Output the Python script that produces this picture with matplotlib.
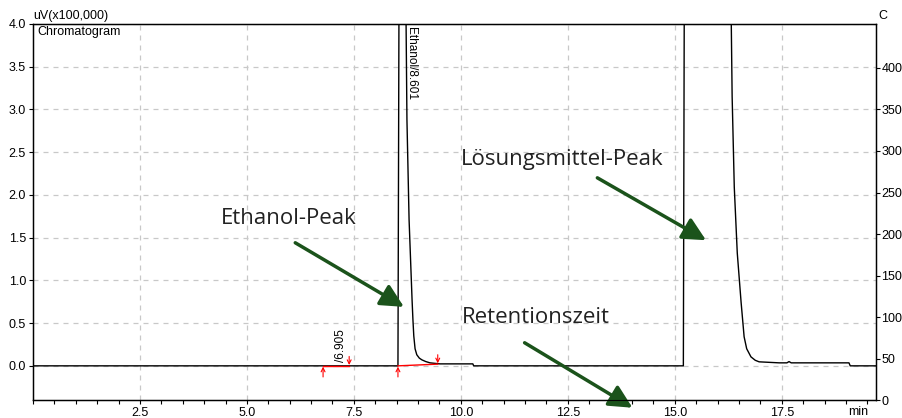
import matplotlib
matplotlib.use("Agg")
import matplotlib.pyplot as plt
from matplotlib.ticker import MultipleLocator

# chromatogram trace (min, uV x100,000)
time = [0.0, 8.53, 8.55, 8.58, 8.70, 8.72, 8.74, 8.79, 8.86, 8.88, 8.90, 8.93, 8.97,
        9.03, 9.09, 9.18, 9.28, 9.51, 10.28, 10.30, 15.20, 15.22, 15.26, 16.28,
        16.32, 16.34, 16.39, 16.46, 16.55, 16.62, 16.68, 16.78, 16.88, 16.97, 17.44,
        17.62, 17.67, 17.72, 19.07, 19.10, 19.70]
signal = [0.0, 0.0, 3.5, 9.0, 9.0, 4.0, 2.88, 1.71, 0.77, 0.54, 0.35, 0.20, 0.13,
          0.09, 0.07, 0.05, 0.035, 0.023, 0.023, 0.0, 0.0, 4.0, 9.0, 9.0,
          4.0, 3.15, 2.09, 1.32, 0.74, 0.34, 0.20, 0.105, 0.065, 0.047, 0.035,
          0.035, 0.05, 0.035, 0.035, 0.0, 0.0]

# integration marks
peak_start = [6.78, 8.53]
peak_end = [7.39, 9.46]
base_start = [0.0, 0.0]
base_end = [0.0, 0.02]
peak_labels = ["/6.905", "Ethanol/8.601"]

plt.rcParams['font.family'] = ['Liberation Sans', 'DejaVu Sans']

fig = plt.figure(figsize=(9.03, 4.18), dpi=100)
ax = fig.add_axes([0.0365, 0.043, 0.9335, 0.8996])

ax.plot(time, signal, color='black', lw=1.0, zorder=3)
ax.set_xlim(0, 19.7)
ax.set_ylim(-0.4, 4.0)

# red baselines + start/end arrows
for xs, xe, ys, ye in zip(peak_start, peak_end, base_start, base_end):
    ax.plot([xs, xe], [ys, ye], color='red', lw=1.0, zorder=4)
    ax.annotate('', xy=(xs, ys - 0.01), xytext=(xs, ys - 0.13),
                arrowprops=dict(arrowstyle='->', color='red', lw=0.8,
                                shrinkA=0, shrinkB=0, mutation_scale=7), zorder=5)
    ax.annotate('', xy=(xe, ye + 0.01), xytext=(xe, ye + 0.11),
                arrowprops=dict(arrowstyle='->', color='red', lw=0.8,
                                shrinkA=0, shrinkB=0, mutation_scale=7), zorder=5)

ax.text(7.2, 0.05, peak_labels[0], rotation=90, ha='center', va='bottom', fontsize=8.5)
ax.text(8.84, 3.97, peak_labels[1], rotation=270, ha='center', va='top', fontsize=8.5)

# ticks / grid
ax.xaxis.set_minor_locator(MultipleLocator(0.5))
ax.yaxis.set_major_locator(MultipleLocator(0.5))
ax.set_xticks([2.5, 5.0, 7.5, 10.0, 12.5, 15.0, 17.5])
ax.set_xticklabels(['2.5', '5.0', '7.5', '10.0', '12.5', '15.0', '17.5'])
ax.tick_params(axis='both', which='both', direction='out', length=3, width=0.8,
               labelsize=9, pad=2, colors='black')
ax.grid(True, which='major', linestyle=(0, (4, 4)), color='#c8c8c8', lw=0.9)
for s in ax.spines.values():
    s.set_linewidth(1.0)

ax2 = ax.twinx()
ax2.set_ylim(0, 453)
ax2.set_yticks(range(0, 401, 50))
ax2.tick_params(axis='y', direction='out', length=3, width=0.8, labelsize=9, pad=1)

fig.text(0.0365, 0.948, 'uV(x100,000)', fontsize=9, ha='left', va='bottom')
ax.text(0.005, 0.995, 'Chromatogram', transform=ax.transAxes, fontsize=9,
        ha='left', va='top')
fig.text(0.973, 0.948, 'C', fontsize=9, ha='left', va='bottom')
fig.text(0.95, 0.0, 'min', fontsize=9, ha='center', va='bottom')

# annotations
green = '#1b531b'
notes = [("Ethanol-Peak", 4.40, 1.72, 6.13, 1.44, 8.67, 0.69),
         ("Lösungsmittel-Peak", 10.0, 2.41, 13.19, 2.20, 15.73, 1.47),
         ("Retentionszeit", 10.03, 0.57, 11.49, 0.27, 14.01, -0.49)]
for txt, tx, ty, ax0, ay0, ax1, ay1 in notes:
    ax.text(tx, ty, txt, fontsize=16, family=['Open Sans', 'DejaVu Sans'],
            ha='left', va='center', color='#222222', zorder=6)
    ax.annotate('', xy=(ax1, ay1), xytext=(ax0, ay0), annotation_clip=False,
                arrowprops=dict(arrowstyle='-|>,head_length=1.0,head_width=0.5',
                                color=green, lw=2.5, shrinkA=0, shrinkB=0,
                                mutation_scale=14), zorder=6)

fig.savefig('out.png', dpi=100)
